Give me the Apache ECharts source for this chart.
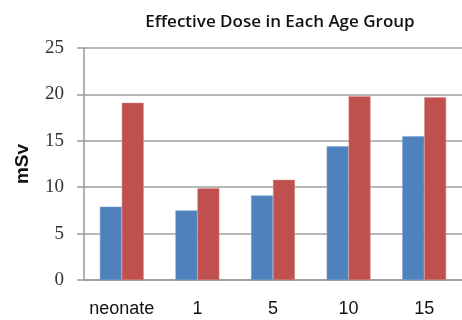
<!DOCTYPE html>
<html>
<head>
<meta charset="utf-8">
<script src="https://cdn.jsdelivr.net/npm/echarts@6/dist/echarts.min.js"></script>
<style>html,body{margin:0;padding:0;background:#fff}#c{width:462px;height:320px}</style>
</head>
<body>
<div id="c"></div>
<script>
var categories = ['neonate', '1', '5', '10', '15'];
var seriesA = [7.9, 7.5, 9.1, 14.4, 15.5];
var seriesB = [19.1, 9.9, 10.8, 19.8, 19.7];
var yTicks = [0, 5, 10, 15, 20, 25];

var chart = echarts.init(document.getElementById('c'), null, {renderer: 'canvas'});
chart.setOption({
  animation: false,
  backgroundColor: '#ffffff',
  title: {
    text: 'Effective Dose in Each Age Group',
    left: 275, top: 9, textAlign: 'center',
    textStyle: {fontFamily: 'Open Sans', fontSize: 17, fontWeight: 600, color: '#111'}
  },
  grid: {left: 84, right: -2, top: 48, bottom: 40, containLabel: false},
  xAxis: {
    type: 'category', data: categories,
    axisLine: {show: true, lineStyle: {color: '#999', width: 1.5}},
    axisTick: {show: false},
    axisLabel: {interval: 0, margin: 20, fontFamily: 'Liberation Sans', fontSize: 18, color: '#111'}
  },
  yAxis: {
    type: 'value', min: 0, max: 25, interval: 5,
    name: 'mSv', nameLocation: 'middle', nameGap: 52, nameRotate: 90,
    nameTextStyle: {fontFamily: 'Liberation Sans', fontSize: 19, fontWeight: 'bold', color: '#111'},
    axisLine: {show: true, lineStyle: {color: '#999', width: 1.5}},
    axisTick: {show: true, length: 7, inside: false, lineStyle: {color: '#999', width: 1.5}},
    axisLabel: {margin: 20, fontFamily: 'Liberation Serif', fontSize: 19, color: '#333',
      formatter: function (v) { return yTicks.indexOf(v) >= 0 ? String(v) : ''; }},
    splitLine: {show: true, lineStyle: {color: '#a0a0a0', width: 1.5}}
  },
  series: [
    {type: 'bar', data: seriesA, barGap: '0%', barCategoryGap: '42%',
     itemStyle: {color: '#4F81BD', borderColor: '#7aa0d4', borderWidth: 0.5}},
    {type: 'bar', data: seriesB, barGap: '0%', barCategoryGap: '42%',
     itemStyle: {color: '#C0504D', borderColor: '#d88a88', borderWidth: 0.5}}
  ]
});
</script>
</body>
</html>
